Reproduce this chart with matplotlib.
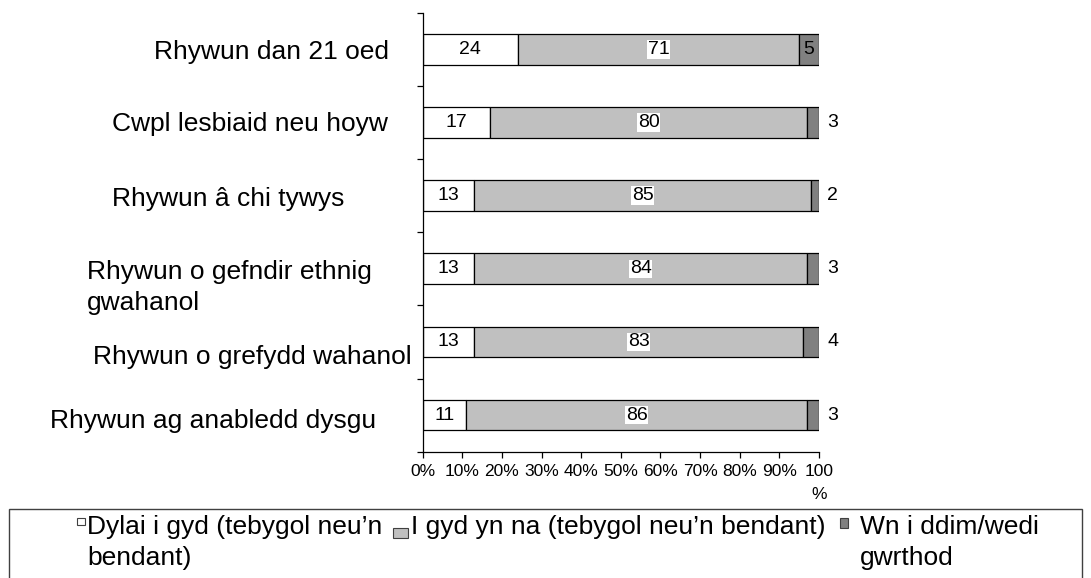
import matplotlib
matplotlib.use("Agg")
import matplotlib.pyplot as plt
from matplotlib.patches import Rectangle
from matplotlib.transforms import blended_transform_factory
import numpy as np

plt.rcParams['font.family'] = ['Liberation Sans', 'DejaVu Sans']

# data
categories = [
    "Rhywun dan 21 oed",
    "Cwpl lesbiaid neu hoyw",
    "Rhywun â chi tywys",
    "Rhywun o gefndir ethnig\ngwahanol",
    "Rhywun o grefydd wahanol",
    "Rhywun ag anabledd dysgu",
]
dylai = [24, 17, 13, 13, 13, 11]
igyd = [71, 80, 85, 84, 83, 86]
wn = [5, 3, 2, 3, 4, 3]
series_names = [
    "Dylai i gyd (tebygol neu\u2019n\nbendant)",
    "I gyd yn na (tebygol neu\u2019n bendant)",
    "Wn i ddim/wedi\ngwrthod",
]
xticks = [0, 10, 20, 30, 40, 50, 60, 70, 80, 90, 100]
xtick_labels = ["0%", "10%", "20%", "30%", "40%", "50%", "60%", "70%", "80%", "90%", "100\n%"]

colors = ["#FFFFFF", "#C0C0C0", "#808080"]

W, H = 1091, 578
fig = plt.figure(figsize=(W / 100, H / 100), dpi=100)
ax = fig.add_axes([422.7 / W, 1 - 451.7 / H, (819 - 422.7) / W, (451.7 - 12.7) / H])

y = np.arange(len(categories))
left = np.zeros(len(categories))
containers = []
for vals, c in zip([dylai, igyd, wn], colors):
    bars = ax.barh(y, vals, left=left, height=0.42, color=c,
                   edgecolor="black", linewidth=0.9)
    containers.append(bars)
    left = left + np.array(vals)

ax.set_xlim(0, 100)
ax.set_ylim(len(categories) - 0.5, -0.5)

# data labels
lab_fs = 14
ax.bar_label(containers[0], labels=[str(v) for v in dylai], label_type="center", fontsize=lab_fs)
ax.bar_label(containers[1], labels=[str(v) for v in igyd], label_type="center", fontsize=lab_fs,
             bbox=dict(facecolor="white", edgecolor="none", pad=0.5))
ax.bar_label(containers[2], labels=[str(wn[0])] + [""] * (len(wn) - 1),
             label_type="center", fontsize=lab_fs)
ax.bar_label(containers[2], labels=[""] + [str(v) for v in wn[1:]],
             label_type="edge", padding=6, fontsize=lab_fs)

# axes styling
for s in ["top", "right"]:
    ax.spines[s].set_visible(False)
for s in ["left", "bottom"]:
    ax.spines[s].set_color("black")
    ax.spines[s].set_linewidth(0.9)

ax.set_xticks(xticks)
ax.set_xticklabels(xtick_labels, fontsize=12.5, linespacing=1.7)
ax.tick_params(axis="x", direction="out", length=4.5, width=0.9, pad=4)
ax.set_yticks(np.arange(-0.5, len(categories), 1.0))
ax.set_yticklabels([])
ax.tick_params(axis="y", direction="out", length=4, width=0.9)

# category labels, placed like the original (left x in px, vertical shift in px)
label_pos = [(154, 3), (112, 1.5), (112, 3), (87, 19), (93, 15), (50, 6)]
tr = blended_transform_factory(fig.transFigure, ax.transData)
row_px = 439 / len(categories)
for i, (cat, (xp, dy)) in enumerate(zip(categories, label_pos)):
    ax.text(xp / W, i + dy / row_px, cat, transform=tr, ha="left", va="center",
            fontsize=19, linespacing=1.38)

# legend box drawn the way the source has it
fig.patches.append(Rectangle((9 / W, -0.05), (1082 - 9) / W, 0.05 + 1 - 509.5 / H,
                             transform=fig.transFigure, facecolor="none",
                             edgecolor="#404040", linewidth=1.0))
key_boxes = [(77, 518, 8, 7), (393, 528, 15, 10), (840, 518, 8, 10)]
text_x = [87, 411, 860]
for name, c, (kx, ky, kw, kh), tx in zip(series_names, colors, key_boxes, text_x):
    fig.patches.append(Rectangle((kx / W, 1 - (ky + kh) / H), kw / W, kh / H,
                                 transform=fig.transFigure, facecolor=c,
                                 edgecolor="#404040", linewidth=0.8))
    fig.text(tx / W, 1 - 515 / H, name, ha="left", va="top", fontsize=19,
             linespacing=1.38)

fig.savefig("out.png", dpi=100)
